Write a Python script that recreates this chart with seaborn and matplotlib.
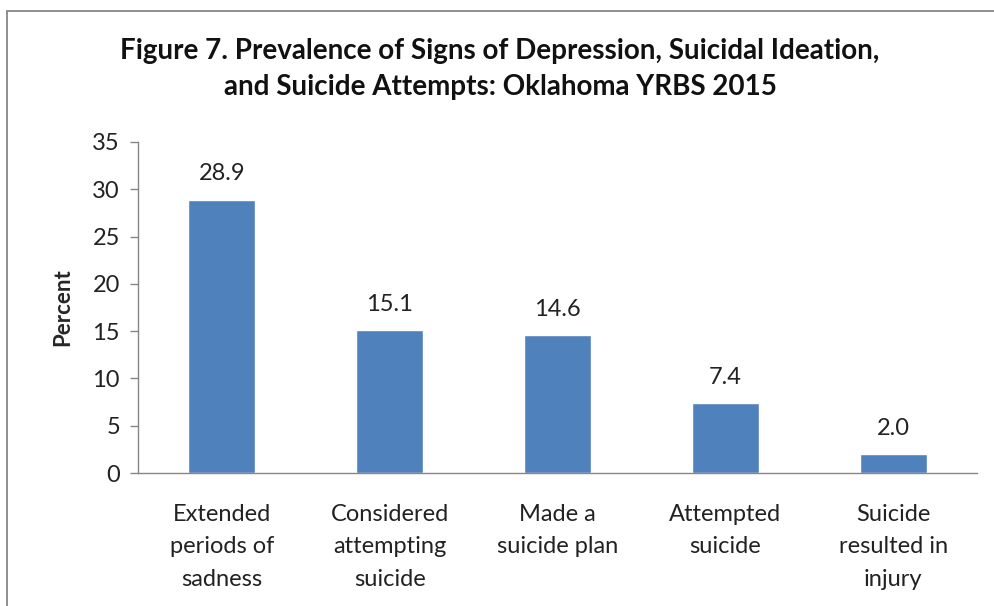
import matplotlib
matplotlib.use("Agg")
import matplotlib.pyplot as plt
import seaborn as sns
import pandas as pd
from matplotlib.patches import Rectangle

categories = ["Extended\nperiods of\nsadness", "Considered\nattempting\nsuicide",
              "Made a\nsuicide plan", "Attempted\nsuicide", "Suicide\nresulted in\ninjury"]
values = [28.9, 15.1, 14.6, 7.4, 2.0]
yticks = [0, 5, 10, 15, 20, 25, 30, 35]
title = "Figure 7. Prevalence of Signs of Depression, Suicidal Ideation,\nand Suicide Attempts: Oklahoma YRBS 2015"

sns.set_style("white")
plt.rcParams['font.family'] = ['Lato', 'DejaVu Sans']

df = pd.DataFrame({"cat": categories, "val": values})

fig = plt.figure(figsize=(9.95, 6.06), dpi=100)
ax = fig.add_axes([138/995, 1-473/606, (977-138)/995, (473-142)/606])

sns.barplot(data=df, x="cat", y="val", color="#4F81BD", width=0.4, saturation=1, ax=ax)

fs = 17
ax.set_xlim(-0.5, len(categories) - 0.5)
ax.set_ylim(0, 35)
ax.set_yticks(yticks)
ax.set_yticklabels([str(t) for t in yticks], fontsize=fs, color="#222222")
ax.set_xticks(range(len(categories)))
ax.set_xticklabels(categories, fontsize=fs, color="#222222", linespacing=1.7)
ax.set_xticks([i - 0.5 for i in range(len(categories) + 1)], minor=True)
ax.tick_params(axis="x", which="major", length=0, pad=22)
ax.tick_params(axis="x", which="minor", length=7, color="#868686", width=1, direction="out")
ax.tick_params(axis="y", length=6, color="#868686", width=1, direction="out", pad=7, left=True)
ax.set_xlabel("")
ax.set_ylabel("Percent", fontsize=16, fontweight="bold", labelpad=14)
for s in ["top", "right"]:
    ax.spines[s].set_visible(False)
for s in ["left", "bottom"]:
    ax.spines[s].set_color("#868686")
    ax.spines[s].set_linewidth(1)

for c in ax.containers:
    ax.bar_label(c, labels=[f"{v:.1f}" for v in values], padding=11, fontsize=fs, color="#222222")

fig.text(500/995, 1-69/606, title, ha="center", va="center", fontsize=20,
         fontweight="bold", linespacing=1.5, color="#111111")

fig.patches.append(Rectangle((7/995, -0.1), 1.2, 1.1 - 11/606, transform=fig.transFigure,
                             fill=False, edgecolor="#868686", linewidth=1.3, figure=fig))

fig.savefig("out.png", dpi=100)
